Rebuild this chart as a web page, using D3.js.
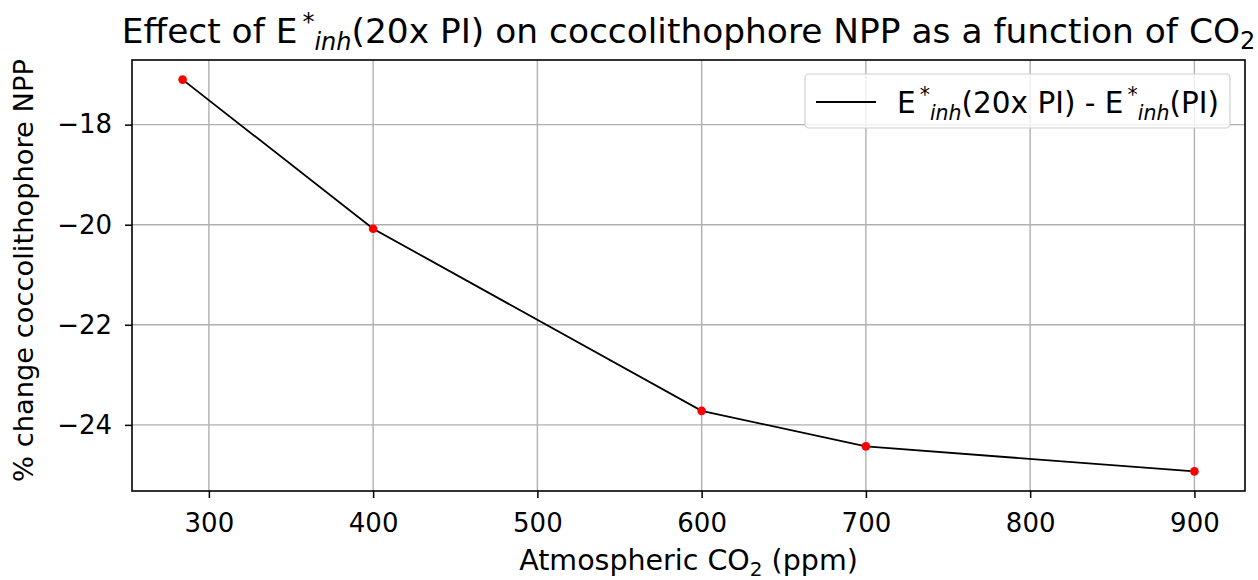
<!DOCTYPE html>
<html>
<head>
<meta charset="utf-8">
<script src="https://cdn.jsdelivr.net/npm/d3@7"></script>
<style>
  body { margin: 0; background: #fff; }
  text { font-family: "DejaVu Sans", sans-serif; fill: #000; }
</style>
</head>
<body>
<div id="chart"></div>
<script>
// data
var co2 = [284, 400, 600, 700, 900];
var nppChange = [-17.1, -20.08, -23.72, -24.43, -24.93];
var xTicks = [300, 400, 500, 600, 700, 800, 900];
var yTicks = [-18, -20, -22, -24];

var W = 1258, H = 580;
var m = {left: 132, right: 13, top: 60, bottom: 89};

var svg = d3.select("#chart").append("svg").attr("width", W).attr("height", H);

// matplotlib style 5% margins
var xr = d3.extent(co2), yr = d3.extent(nppChange);
var xpad = (xr[1] - xr[0]) * 0.05, ypad = (yr[1] - yr[0]) * 0.05;
var x = d3.scaleLinear().domain([xr[0] - xpad, xr[1] + xpad]).range([m.left, W - m.right]);
var y = d3.scaleLinear().domain([yr[0] - ypad, yr[1] + ypad]).range([H - m.bottom, m.top]);

var fmt = function(d) { return d < 0 ? "\u2212" + Math.abs(d) : d; };

// grid
var grid = svg.append("g");
grid.selectAll(".gx").data(xTicks).enter().append("line")
  .attr("x1", d => x(d)).attr("x2", d => x(d))
  .attr("y1", m.top).attr("y2", H - m.bottom)
  .attr("stroke", "#b0b0b0").attr("stroke-width", 1.4);
grid.selectAll(".gy").data(yTicks).enter().append("line")
  .attr("x1", m.left).attr("x2", W - m.right)
  .attr("y1", d => y(d)).attr("y2", d => y(d))
  .attr("stroke", "#b0b0b0").attr("stroke-width", 1.4);

// axes
var xAxis = svg.append("g").attr("transform", "translate(0," + (H - m.bottom) + ")")
  .call(d3.axisBottom(x).tickValues(xTicks).tickSize(7).tickPadding(14).tickFormat(fmt));
var yAxis = svg.append("g").attr("transform", "translate(" + m.left + ",0)")
  .call(d3.axisLeft(y).tickValues(yTicks).tickSize(7).tickPadding(13).tickFormat(fmt));
[xAxis, yAxis].forEach(function(a) {
  a.select(".domain").remove();
  a.selectAll(".tick line").attr("stroke", "#000").attr("stroke-width", 1.5);
  a.selectAll(".tick text").attr("font-size", 26).attr("font-family", "DejaVu Sans");
});
xAxis.selectAll(".tick text").attr("dy", "0.75em");

// frame
svg.append("rect").attr("x", m.left).attr("y", m.top)
  .attr("width", W - m.left - m.right).attr("height", H - m.top - m.bottom)
  .attr("fill", "none").attr("stroke", "#000").attr("stroke-width", 1.6);

// series
var pts = co2.map((c, i) => [c, nppChange[i]]);
svg.append("path").datum(pts)
  .attr("d", d3.line().x(d => x(d[0])).y(d => y(d[1])))
  .attr("fill", "none").attr("stroke", "#000").attr("stroke-width", 1.8);
svg.selectAll(".dot").data(pts).enter().append("circle")
  .attr("cx", d => x(d[0])).attr("cy", d => y(d[1])).attr("r", 4.3).attr("fill", "red");

// title
var title = svg.append("text").attr("x", (m.left + W - m.right) / 2).attr("y", 43)
  .attr("text-anchor", "middle").attr("font-size", 34.4);
title.append("tspan").text("Effect of E");
title.append("tspan").text("*").attr("dx", 5).attr("dy", -13).attr("font-size", 24);
title.append("tspan").text("inh").attr("dy", 20).attr("font-size", 24).attr("font-style", "italic");
title.append("tspan").text("(20x PI) on coccolithophore NPP as a function of CO").attr("dy", -7);
title.append("tspan").text("2").attr("dy", 6).attr("font-size", 24);

// axis labels
var xl = svg.append("text").attr("x", (m.left + W - m.right) / 2).attr("y", 570)
  .attr("text-anchor", "middle").attr("font-size", 28.5);
xl.append("tspan").text("Atmospheric CO");
xl.append("tspan").text("2").attr("dy", 6).attr("font-size", 20);
xl.append("tspan").text(" (ppm)").attr("dy", -6);

svg.append("text").attr("transform", "translate(33," + ((m.top + H - m.bottom) / 2 - 5) + ") rotate(-90)")
  .attr("text-anchor", "middle").attr("font-size", 27.3).text("% change coccolithophore NPP");

// legend
var lg = svg.append("g");
lg.append("rect").attr("x", 805).attr("y", 74).attr("width", 425).attr("height", 54)
  .attr("rx", 4).attr("fill", "#fff").attr("fill-opacity", 0.8)
  .attr("stroke", "#d0d0d0").attr("stroke-width", 1.2);
lg.append("line").attr("x1", 816).attr("x2", 876).attr("y1", 102).attr("y2", 102)
  .attr("stroke", "#000").attr("stroke-width", 1.8);
var lt = lg.append("text").attr("x", 897).attr("y", 113).attr("font-size", 29.5);
lt.append("tspan").text("E");
lt.append("tspan").text("*").attr("dx", 4).attr("dy", -11).attr("font-size", 20.5);
lt.append("tspan").text("inh").attr("dy", 18).attr("font-size", 20.5).attr("font-style", "italic");
lt.append("tspan").text("(20x PI) - E").attr("dy", -7);
lt.append("tspan").text("*").attr("dx", 4).attr("dy", -11).attr("font-size", 20.5);
lt.append("tspan").text("inh").attr("dy", 18).attr("font-size", 20.5).attr("font-style", "italic");
lt.append("tspan").text("(PI)").attr("dy", -7);
</script>
</body>
</html>
